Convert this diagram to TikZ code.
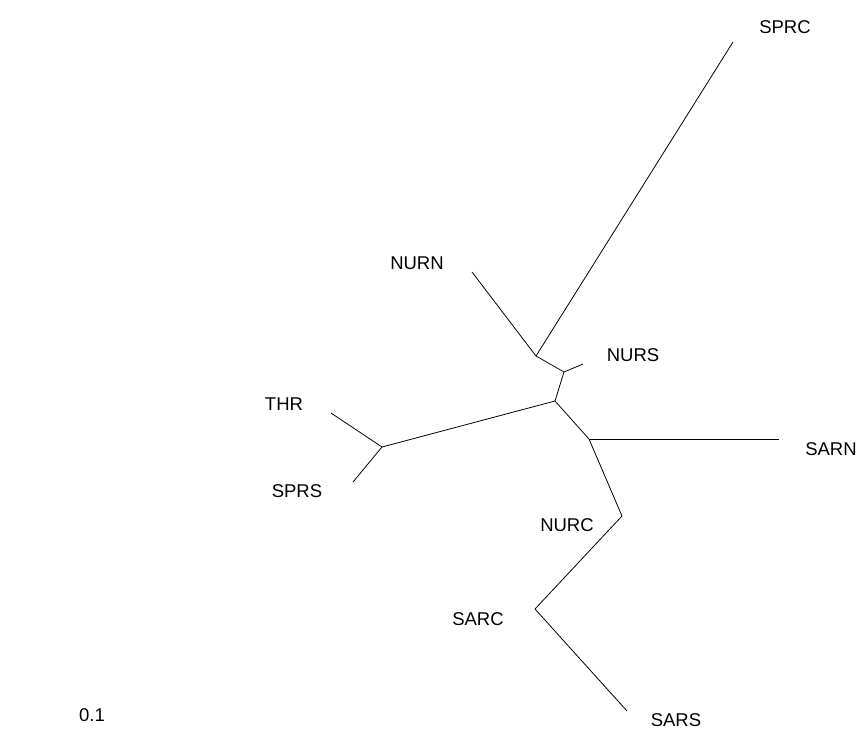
\documentclass[tikz,border=0pt]{standalone}
\usepackage{fontspec}
\setmainfont{Liberation Sans}
\begin{document}
\begin{tikzpicture}[x=1pt,y=-1pt,
  edge/.style={draw=black,line width=0.8pt},
  lab/.style={font=\fontsize{18.5}{21}\selectfont,text=black,inner sep=0pt}]
\useasboundingbox (0,0) rectangle (860,731);
% internal nodes
\coordinate (A) at (536,356);
\coordinate (B) at (564,372);
\coordinate (C) at (555,401);
\coordinate (D) at (589,439);
\coordinate (E) at (382,447);
\coordinate (F) at (622,516);
\coordinate (G) at (535,609);
% tips
\coordinate (tSPRC) at (733,42);
\coordinate (tNURN) at (472,272);
\coordinate (tNURS) at (583,364);
\coordinate (tTHR) at (331,413);
\coordinate (tSPRS) at (353,482);
\coordinate (tSARN) at (779,439);
\coordinate (tSARS) at (627,711);
% edges
\draw[edge] (A) -- (tSPRC);
\draw[edge] (A) -- (tNURN);
\draw[edge] (A) -- (B);
\draw[edge] (B) -- (tNURS);
\draw[edge] (B) -- (C);
\draw[edge] (C) -- (E);
\draw[edge] (E) -- (tTHR);
\draw[edge] (E) -- (tSPRS);
\draw[edge] (C) -- (D);
\draw[edge] (D) -- (tSARN);
\draw[edge] (D) -- (F);
\draw[edge] (F) -- (G);
\draw[edge] (G) -- (tSARS);
% labels
\node[lab] (lSPRC) at (785,27) {SPRC};
\node[lab] (lNURN) at (417,263) {NURN};
\node[lab] (lNURS) at (633,355) {NURS};
\node[lab] (lTHR) at (284,404) {THR};
\node[lab] (lSPRS) at (297,491) {SPRS};
\node[lab] (lSARN) at (831,449) {SARN};
\node[lab] (lNURC) at (567,525) {NURC};
\node[lab] (lSARC) at (478,619) {SARC};
\node[lab] (lSARS) at (676,720) {SARS};
\node[lab] (scale) at (92,715) {0.1};
\end{tikzpicture}
\end{document}
